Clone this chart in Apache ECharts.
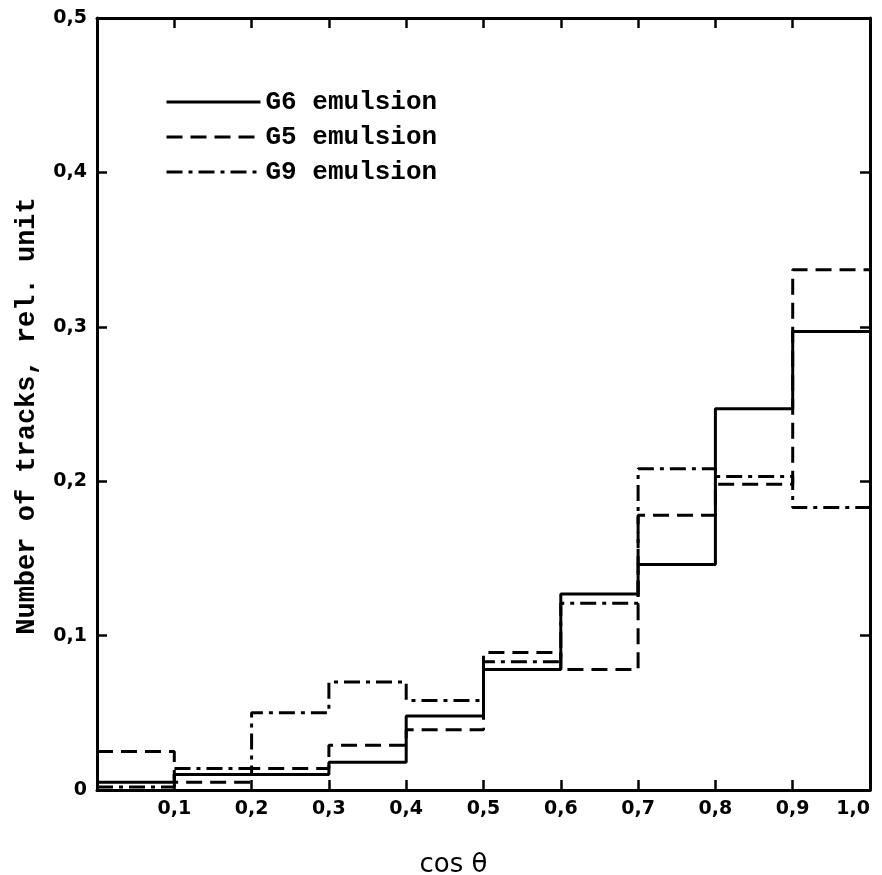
<!DOCTYPE html>
<html>
<head>
<meta charset="utf-8">
<script src="https://cdn.jsdelivr.net/npm/echarts@6/dist/echarts.min.js"></script>
<style>html,body{margin:0;padding:0;background:#fff;}#c{width:882px;height:875px;}</style>
</head>
<body>
<div id="c"></div>
<script>
const binEdges = [0, 0.1, 0.2, 0.3, 0.4, 0.5, 0.6, 0.7, 0.8, 0.9, 1.0];
const g6Values = [0.005, 0.010, 0.010, 0.018, 0.048, 0.078, 0.127, 0.146, 0.247, 0.297];
const g5Values = [0.025, 0.005, 0.014, 0.029, 0.039, 0.089, 0.078, 0.178, 0.198, 0.337];
const g9Values = [0.002, 0.014, 0.050, 0.070, 0.058, 0.083, 0.121, 0.208, 0.203, 0.183];
const seriesNames = ['G6 emulsion', 'G5 emulsion', 'G9 emulsion'];
const xTickLabels = ['', '0,1', '0,2', '0,3', '0,4', '0,5', '0,6', '0,7', '0,8', '0,9', '1,0'];
const yTickLabels = ['0', '0,1', '0,2', '0,3', '0,4', '0,5'];

function histData(vals) {
  const d = vals.map((v, i) => [binEdges[i], v]);
  d.push([binEdges[binEdges.length - 1], vals[vals.length - 1]]);
  return d;
}

const chart = echarts.init(document.getElementById('c'));
const tickFont = {color: '#000', fontFamily: 'DejaVu Sans', fontWeight: 'bold', fontSize: 19};
const axisLine = {show: true, onZero: false, lineStyle: {color: '#000', width: 3}};
const axisTick = {show: true, inside: true, length: 10, lineStyle: {color: '#000', width: 2.5}};

chart.setOption({
  animation: false,
  backgroundColor: '#fff',
  grid: {left: 97, right: 12, top: 18, bottom: 85, containLabel: false, outerBoundsMode: 'none'},
  legend: {
    data: seriesNames,
    orient: 'vertical',
    left: 160,
    top: 84,
    itemWidth: 94,
    itemHeight: 14,
    itemGap: 9,
    itemStyle: {opacity: 0},
    lineStyle: {width: 3},
    textStyle: {color: '#000', fontFamily: 'Liberation Mono', fontWeight: 'bold', fontSize: 26}
  },
  xAxis: [{
    type: 'value', min: 0, max: 1, interval: 0.1, position: 'bottom',
    name: 'cos θ', nameLocation: 'middle', nameGap: 62,
    nameTextStyle: {color: '#000', fontFamily: 'DejaVu Sans', fontSize: 26, padding: [0, 60, 0, 0]},
    axisLine: axisLine, axisTick: axisTick, splitLine: {show: false},
    axisLabel: Object.assign({margin: 10, alignMaxLabel: 'right', formatter: (v) => xTickLabels[Math.round(v * 10)]}, tickFont)
  }, {
    type: 'value', min: 0, max: 1, interval: 0.1, position: 'top',
    axisLine: axisLine, axisTick: axisTick, splitLine: {show: false}, axisLabel: {show: false}
  }],
  yAxis: [{
    type: 'value', min: 0, max: 0.5, interval: 0.1, position: 'left',
    name: 'Number of tracks, rel. unit', nameLocation: 'middle', nameGap: 56,
    nameTextStyle: {color: '#000', fontFamily: 'Liberation Mono', fontWeight: 'bold', fontSize: 27, padding: [0, 24, 0, 0]},
    axisLine: axisLine, axisTick: axisTick, splitLine: {show: false},
    axisLabel: Object.assign({margin: 10, formatter: (v) => yTickLabels[Math.round(v * 10)]}, tickFont)
  }, {
    type: 'value', min: 0, max: 0.5, interval: 0.1, position: 'right',
    axisLine: axisLine, axisTick: axisTick, splitLine: {show: false}, axisLabel: {show: false}
  }],
  series: [
    {name: seriesNames[0], type: 'line', step: 'end', symbol: 'none', data: histData(g6Values),
     lineStyle: {color: '#000', width: 3, type: 'solid'}, itemStyle: {color: '#000'}},
    {name: seriesNames[1], type: 'line', step: 'end', symbol: 'none', data: histData(g5Values),
     lineStyle: {color: '#000', width: 3, type: [16, 8]}, itemStyle: {color: '#000'}},
    {name: seriesNames[2], type: 'line', step: 'end', symbol: 'none', data: histData(g9Values),
     lineStyle: {color: '#000', width: 3, type: [16, 6, 4, 6]}, itemStyle: {color: '#000'}}
  ]
});
</script>
</body>
</html>
